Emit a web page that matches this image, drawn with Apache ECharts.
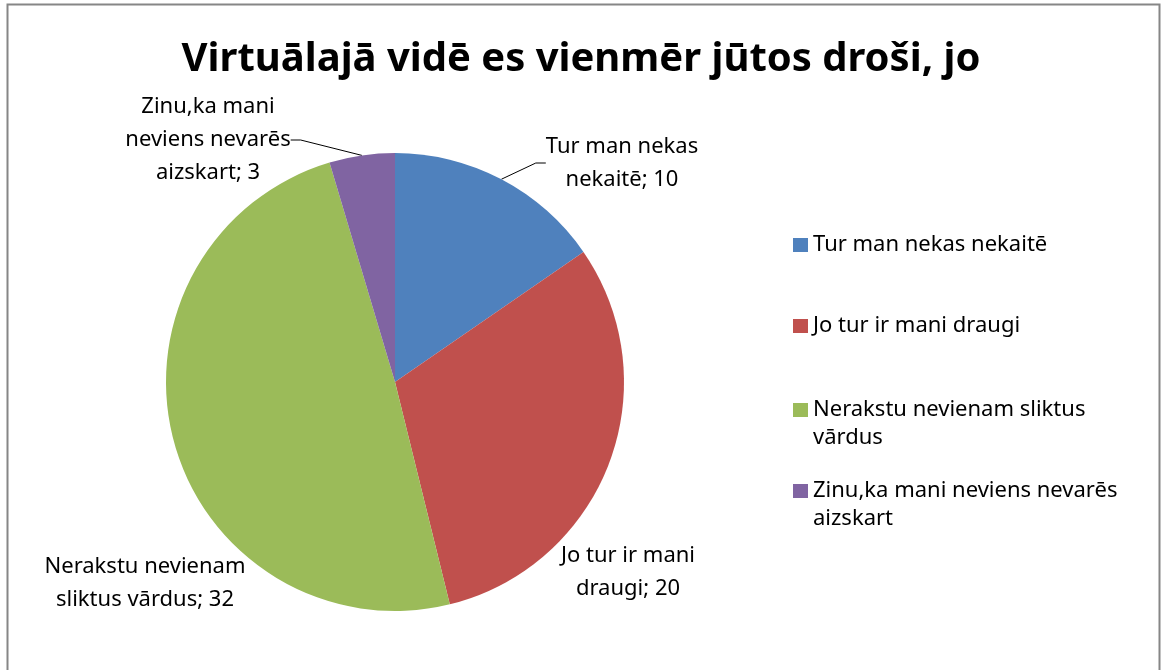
<!DOCTYPE html>
<html><head><meta charset="utf-8">
<script src="https://cdn.jsdelivr.net/npm/echarts@6/dist/echarts.min.js"></script>
<style>html,body{margin:0;padding:0;background:#fff}#c{width:1162px;height:670px}</style>
</head><body><div id="c"></div>
<script>
const titleText = 'Virtuālajā vidē es vienmēr jūtos droši, jo';
const categories = ['Tur man nekas nekaitē', 'Jo tur ir mani draugi', 'Nerakstu nevienam sliktus vārdus', 'Zinu,ka mani neviens nevarēs aizskart'];
const values = [10, 20, 32, 3];
const labelTexts = ['Tur man nekas\nnekaitē', 'Jo tur ir mani\ndraugi', 'Nerakstu nevienam\nsliktus vārdus', 'Zinu,ka mani\nneviens nevarēs\naizskart'];
const legendTexts = ['Tur man nekas nekaitē', 'Jo tur ir mani draugi', 'Nerakstu nevienam sliktus\nvārdus', 'Zinu,ka mani neviens nevarēs\naizskart'];

const colors = ['#4F81BD', '#C0504D', '#9BBB59', '#8064A2'];
const FONT = '"Noto Sans", sans-serif';
const labelPos = [[622, 163], [628, 572], [145, 583], [208, 140]];
const showLine = [true, false, false, true];
const legendTops = [231, 312, 368, 449];

const chart = echarts.init(document.getElementById('c'), null, {renderer: 'canvas'});
const legends = categories.map((name, i) => ({
  left: 793, top: legendTops[i], orient: 'vertical', icon: 'rect', padding: 0,
  itemWidth: 15, itemHeight: 14, itemGap: 0, selectedMode: false,
  data: [name],
  formatter: () => (legendTexts[i].indexOf('\n') >= 0 ? ' \n' : '') + legendTexts[i],
  textStyle: { fontFamily: FONT, fontSize: 22, color: '#000', lineHeight: 28 }
}));

chart.setOption({
  color: colors,
  animation: false,
  title: { text: titleText, left: 'center', top: 35,
    textStyle: { fontFamily: FONT, fontWeight: 'bold', fontSize: 40, color: '#000' } },
  legend: legends,
  graphic: [{ type: 'rect', shape: { x: 7.5, y: 4.5, width: 1152, height: 700 },
    style: { fill: 'none', stroke: '#868686', lineWidth: 2 }, silent: true }],
  series: [{
    type: 'pie', center: [395, 382], radius: 229, startAngle: 90, clockwise: true,
    data: categories.map((n, i) => ({ name: n, value: values[i], labelLine: { show: showLine[i] } })),
    itemStyle: { borderWidth: 0 },
    label: { show: true, position: 'outside', fontFamily: FONT, fontSize: 22, color: '#000',
      lineHeight: 33, align: 'center', overflow: 'none',
      formatter: p => labelTexts[p.dataIndex] + '; ' + p.value },
    labelLine: { show: true, lineStyle: { color: '#000', width: 1 }, length: 10, length2: 10 },
    labelLayout: p => ({ x: labelPos[p.dataIndex][0], y: labelPos[p.dataIndex][1], align: 'center', verticalAlign: 'middle' }),
    emphasis: { disabled: true }
  }]
});
</script></body></html>
